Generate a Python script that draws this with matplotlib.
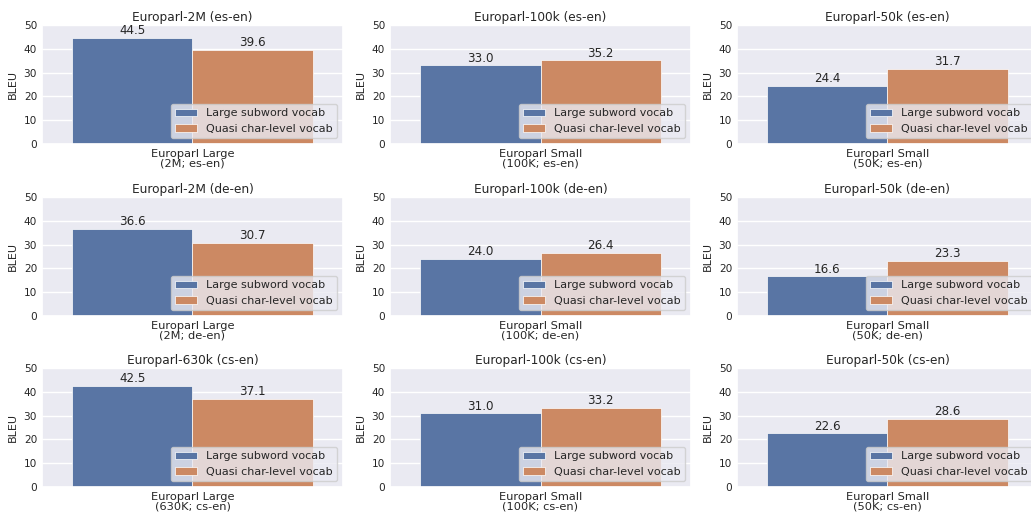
import numpy as np
import matplotlib

matplotlib.use("Agg")
import matplotlib.pyplot as plt
import seaborn as sns

sns.set_theme(style="darkgrid")
plt.rcParams['font.family'] = ['DejaVu Sans']

titles = [
    "Europarl-2M (es-en)", "Europarl-100k (es-en)", "Europarl-50k (es-en)",
    "Europarl-2M (de-en)", "Europarl-100k (de-en)", "Europarl-50k (de-en)",
    "Europarl-630k (cs-en)", "Europarl-100k (cs-en)", "Europarl-50k (cs-en)",
]
xlabels = [
    "Europarl Large\n(2M; es-en)", "Europarl Small\n(100K; es-en)", "Europarl Small\n(50K; es-en)",
    "Europarl Large\n(2M; de-en)", "Europarl Small\n(100K; de-en)", "Europarl Small\n(50K; de-en)",
    "Europarl Large\n(630K; cs-en)", "Europarl Small\n(100K; cs-en)", "Europarl Small\n(50K; cs-en)",
]
large_subword = [44.5, 33.0, 24.4, 36.6, 24.0, 16.6, 42.5, 31.0, 22.6]
quasi_char = [39.6, 35.2, 31.7, 30.7, 26.4, 23.3, 37.1, 33.2, 28.6]
series_names = ["Large subword vocab", "Quasi char-level vocab"]

# seaborn barplot look: deep palette at 0.75 saturation
colors = sns.color_palette("deep", desat=0.75)

W, H = 1031, 515
fig = plt.figure(figsize=(W / 100, H / 100), dpi=100)

# axes boxes in pixels (left, top), each 301 x 119
col_left = [42, 390, 737]
row_top = [25, 197, 368]
ax_w, ax_h = 301, 119

for i in range(9):
    r, c = divmod(i, 3)
    ax = fig.add_axes([col_left[c] / W, (H - row_top[r] - ax_h) / H, ax_w / W, ax_h / H])
    vals = [large_subword[i], quasi_char[i]]
    offsets = [-0.2, 0.2]
    for j in range(2):
        bars = ax.bar(offsets[j], vals[j], width=0.4, color=colors[j],
                      edgecolor="white", linewidth=0.5, label=series_names[j])
        ax.bar_label(bars, labels=["%.1f" % vals[j]], fontsize=8.6, padding=0.5)
    ax.set_xlim(-0.5, 0.5)
    ax.set_ylim(0, 50)
    ax.set_yticks([0, 10, 20, 30, 40, 50])
    ax.set_xticks([0])
    ax.set_xticklabels([xlabels[i]], fontsize=8.2, linespacing=1.0)
    ax.grid(False, axis="x")
    # ticks hidden in darkgrid, but their length still adds to the label pad
    ax.tick_params(axis="y", labelsize=7.6, length=0, pad=3.5)
    ax.tick_params(axis="x", length=0, pad=3.5)
    ax.set_ylabel("BLEU", fontsize=8, labelpad=4)
    ax.set_title(titles[i], fontsize=8.7, pad=3)
    ax.legend(loc="lower right", fontsize=8)

plt.savefig("out.png")
